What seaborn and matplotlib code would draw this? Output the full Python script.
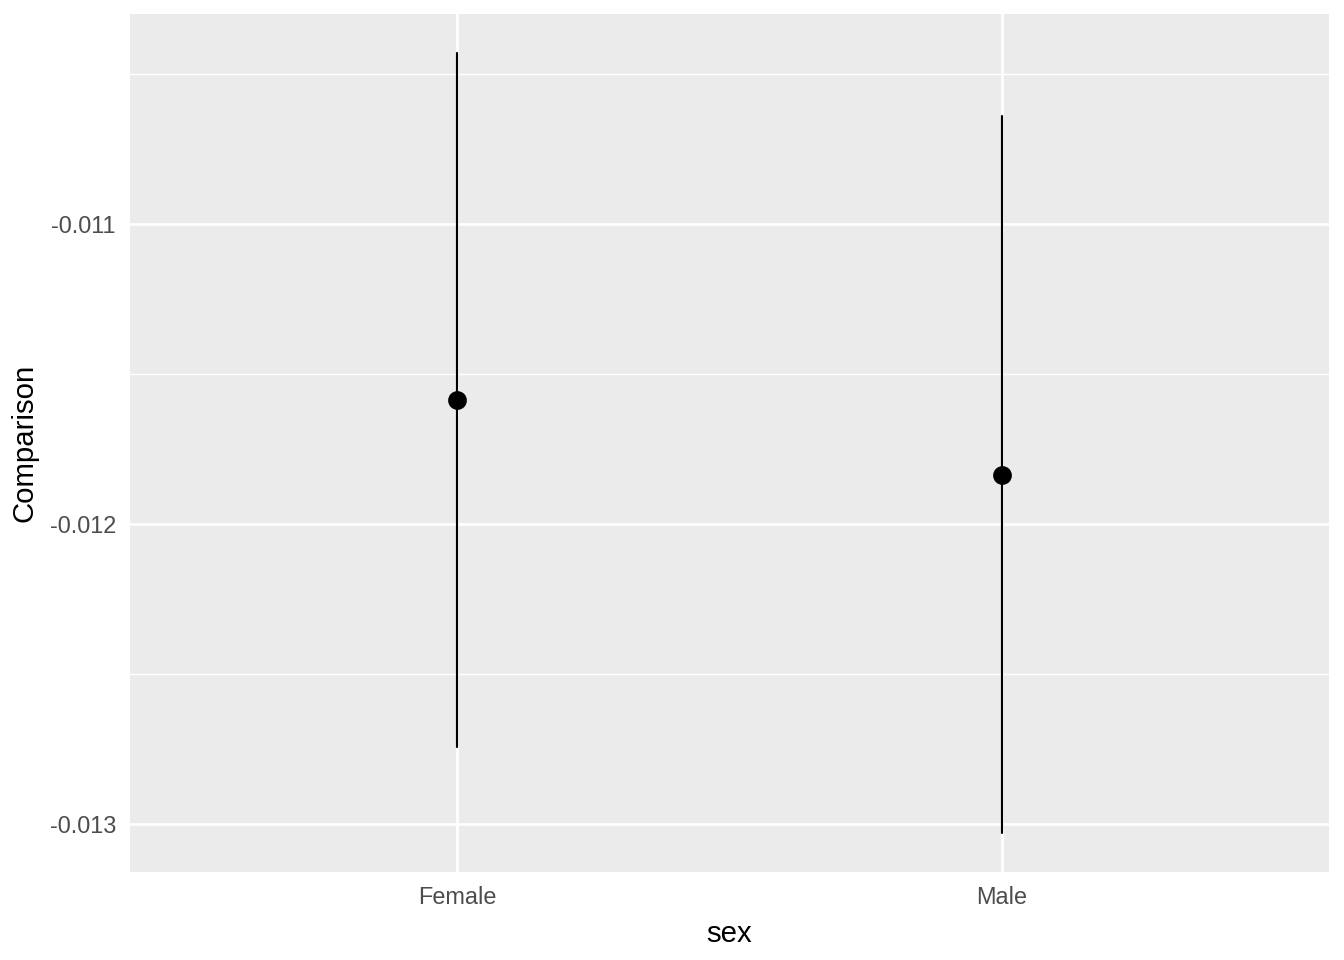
import pandas as pd
import seaborn as sb
import matplotlib.pyplot as plt
from matplotlib.ticker import MultipleLocator, FuncFormatter

# interval values
sexes = ["Female", "Male"]
estimates = [-0.011587, -0.011837]
lower = [-0.012743, -0.013030]
upper = [-0.010430, -0.010640]

rows = []
for s, lo, est, hi in zip(sexes, lower, estimates, upper):
    for v in (lo, est, hi):
        rows.append({"sex": s, "Comparison": v})
df = pd.DataFrame(rows)

sb.set_style("darkgrid", {"axes.facecolor": "#EBEBEB", "grid.color": "white"})
plt.rcParams["font.family"] = ["Liberation Sans", "DejaVu Sans"]

fig, ax = plt.subplots(figsize=(7, 5), dpi=192)
fig.subplots_adjust(left=0.0967, right=0.9888, top=0.9854, bottom=0.0917)

sb.pointplot(
    data=df, x="sex", y="Comparison", order=sexes,
    estimator="median", errorbar=lambda x: (x.min(), x.max()),
    color="black", linestyle="none", markersize=5, err_kws={"linewidth": 0.8},
    ax=ax,
)

ax.set_xlim(-0.6, 1.6)
ax.set_ylim(-0.01316, -0.0103)
ax.yaxis.set_major_locator(MultipleLocator(0.001))
ax.yaxis.set_minor_locator(MultipleLocator(0.0005))
ax.yaxis.set_major_formatter(FuncFormatter(lambda v, p: f"{v:.3f}"))
ax.grid(which="major", color="white", linewidth=1.0)
ax.grid(which="minor", axis="y", color="white", linewidth=0.5)
ax.set_axisbelow(True)
for sp in ax.spines.values():
    sp.set_visible(False)

ax.tick_params(axis="both", which="major", length=2.75, width=0.5, color="#333333",
               labelsize=8.8, labelcolor="#4D4D4D", pad=2.5)
ax.tick_params(axis="both", which="minor", length=0)
ax.set_xlabel("sex", fontsize=11, color="black", labelpad=4)
ax.set_ylabel("Comparison", fontsize=11, color="black", labelpad=4)

fig.savefig("out.png", dpi=192, facecolor="white")
